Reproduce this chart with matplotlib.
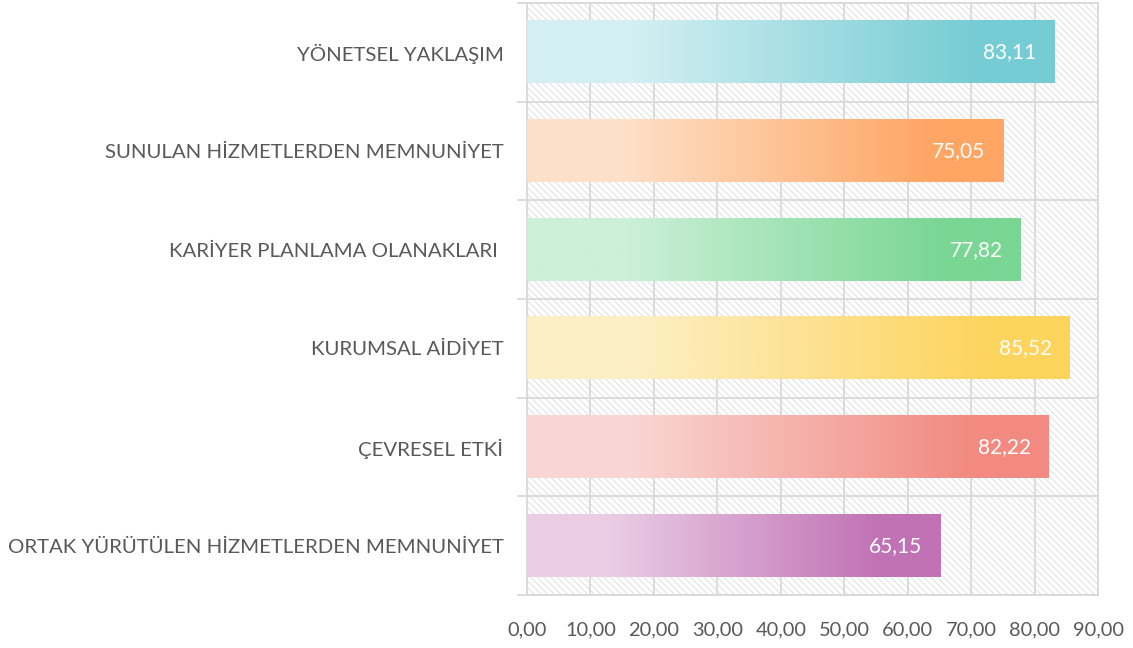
import numpy as np
import matplotlib
matplotlib.use("Agg")
import matplotlib.pyplot as plt
from matplotlib.colors import to_rgb
from matplotlib.patches import Rectangle
from matplotlib.ticker import FuncFormatter

categories = [
    "YÖNETSEL YAKLAŞIM",
    "SUNULAN HİZMETLERDEN MEMNUNİYET",
    "KARİYER PLANLAMA OLANAKLARI ",
    "KURUMSAL AİDİYET",
    "ÇEVRESEL ETKİ",
    "ORTAK YÜRÜTÜLEN HİZMETLERDEN MEMNUNİYET",
]
values = [83.11, 75.05, 77.82, 85.52, 82.22, 65.15]
light_colors = ["#d3eff2", "#fee0c8", "#ccf0d8", "#fdefc5", "#f9d6d3", "#eacde5"]
dark_colors = ["#76ccd4", "#ffa665", "#79d693", "#fdd45d", "#f28a81", "#c172b5"]
x_ticks = [0, 10, 20, 30, 40, 50, 60, 70, 80, 90]

plt.rcParams['font.family'] = ['Lato', 'DejaVu Sans']
plt.rcParams['hatch.linewidth'] = 0.6
fig = plt.figure(figsize=(11.33, 6.48), dpi=100)
ax = fig.add_axes([527/1133, 1-595/648, (1098-527)/1133, (595-3)/648])

n = len(categories)
ys = np.arange(n)[::-1]  # top category at highest y
bar_h = 0.63

ax.set_xlim(0, 90)
ax.set_ylim(-0.5, n - 0.5)

# hatched background
bg = Rectangle((0, 0), 1, 1, transform=ax.transAxes, facecolor='white',
               edgecolor='#dcdcdc', hatch='\\\\\\\\\\', linewidth=0, zorder=0)
ax.add_patch(bg)

# gradient bars
N = 256
t = np.linspace(0, 1, N)
frac = np.clip((t - 0.2) / (0.85 - 0.2), 0, 1)
for y, v, lc, dc in zip(ys, values, light_colors, dark_colors):
    l = np.array(to_rgb(lc)); d = np.array(to_rgb(dc))
    grad = l[None, :] * (1 - frac[:, None]) + d[None, :] * frac[:, None]
    img = grad[None, :, :]
    ax.imshow(img, extent=[0, v, y - bar_h/2, y + bar_h/2], aspect='auto',
              interpolation='bilinear', zorder=3)
    ax.text(v - 2.8, y, f"{v:.2f}".replace('.', ','), ha='right', va='center',
            color='white', fontsize=15, zorder=4)

ax.set_xlim(0, 90)
ax.set_ylim(-0.5, n - 0.5)
ax.set_aspect('auto')

# grid
ax.set_xticks(x_ticks)
ax.xaxis.set_major_formatter(FuncFormatter(lambda x, p: f"{x:.2f}".replace('.', ',')))
ax.set_yticks(ys)
ax.set_yticklabels(categories)
ax.set_yticks(np.arange(-0.5, n, 1.0), minor=True)
ax.grid(True, axis='x', which='major', color='#d9d9d9', linewidth=1.3, zorder=1)
ax.grid(True, axis='y', which='minor', color='#d9d9d9', linewidth=1.3, zorder=1)
ax.set_axisbelow(True)

ax.tick_params(axis='y', which='major', length=0, pad=17, labelsize=14.7, labelcolor='#595959')
ax.tick_params(axis='y', which='minor', length=7, width=1.3, color='#d9d9d9', direction='out')
ax.tick_params(axis='x', which='major', length=0, pad=19, labelsize=14.4, labelcolor='#595959')

for s in ax.spines.values():
    s.set_color('#d9d9d9')
    s.set_linewidth(1.3)

fig.savefig("out.png", dpi=100, facecolor='white')
